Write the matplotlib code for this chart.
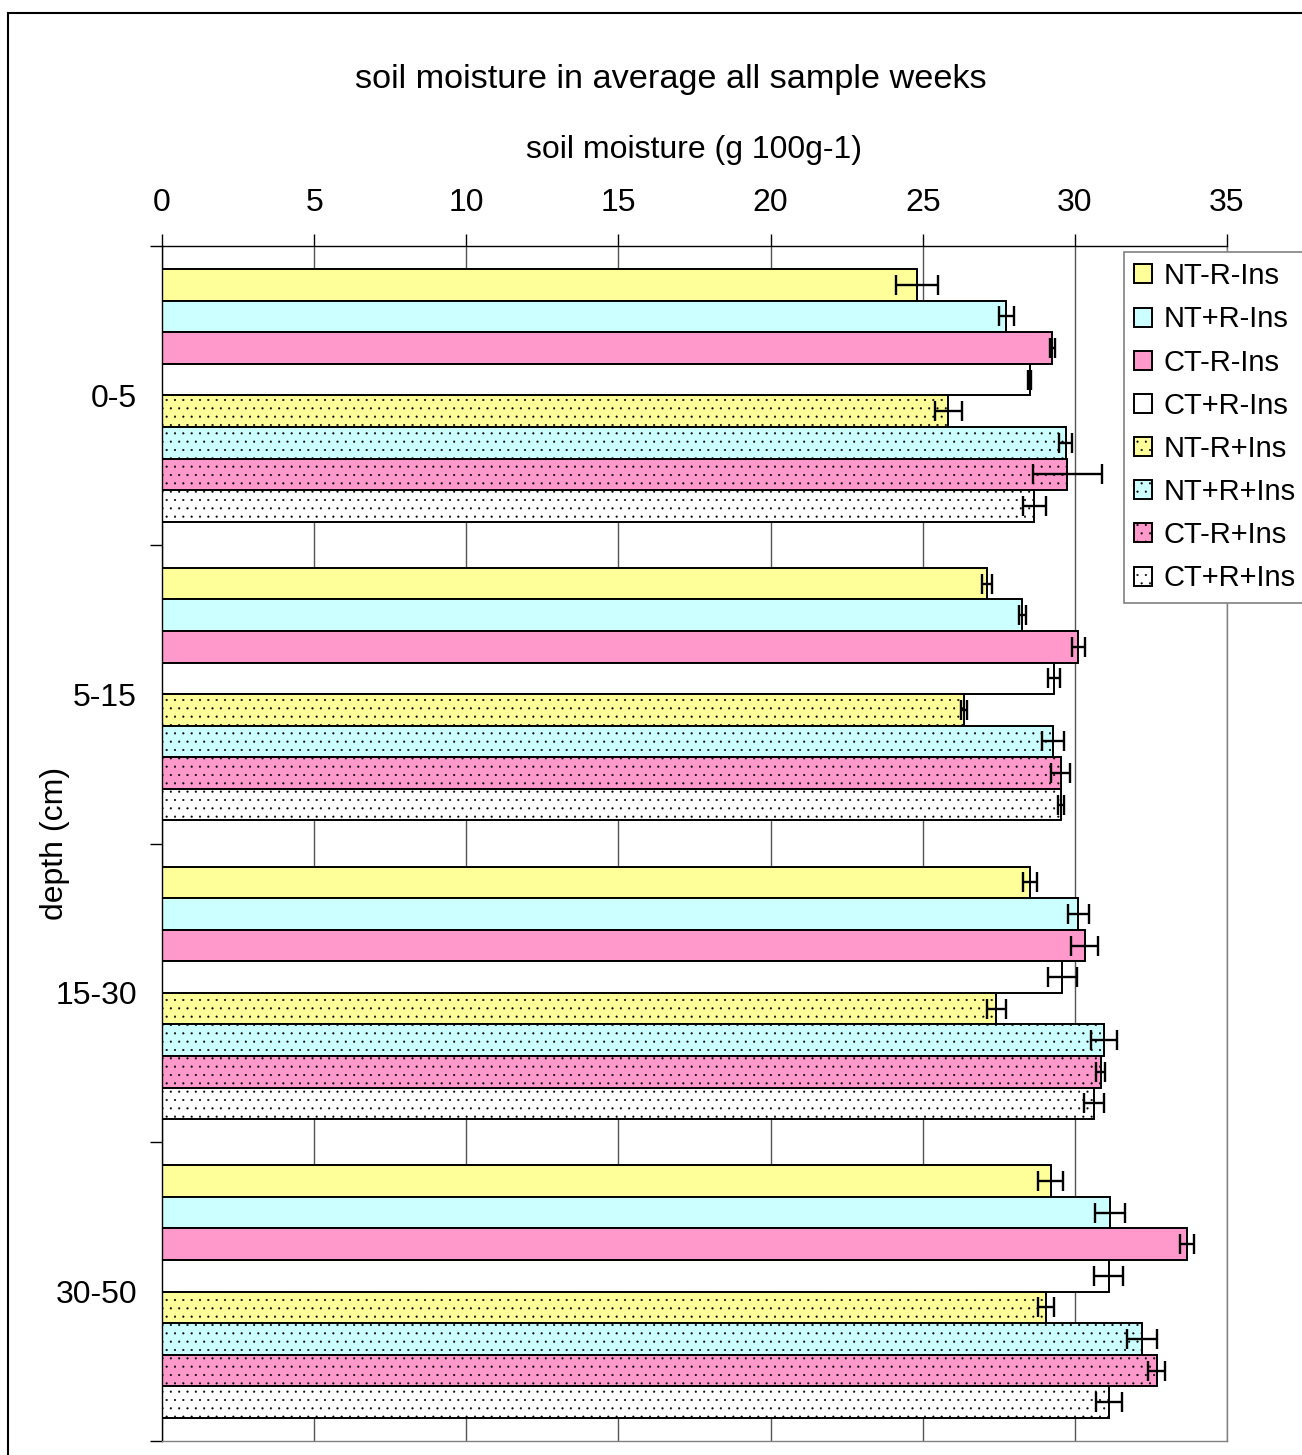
import numpy as np
import matplotlib.pyplot as plt
from matplotlib.patches import Rectangle

plt.rcParams['font.family'] = ['Liberation Sans', 'DejaVu Sans']
plt.rcParams['hatch.linewidth'] = 0.3

depths = ["0-5", "5-15", "15-30", "30-50"]
series = ["NT-R-Ins", "NT+R-Ins", "CT-R-Ins", "CT+R-Ins",
          "NT-R+Ins", "NT+R+Ins", "CT-R+Ins", "CT+R+Ins"]
colors = ["#FFFF99", "#CCFFFF", "#FF99CC", "#FFFFFF",
          "#FFFF99", "#CCFFFF", "#FF99CC", "#FFFFFF"]
hatches = [None, None, None, None, "..", "..", "..", ".."]

# mean soil moisture per series, one value per depth
nt_r_ins = [24.80, 27.11, 28.52, 29.20]
ntpr_ins = [27.75, 28.27, 30.11, 31.16]
ct_r_ins = [29.26, 30.11, 30.32, 33.69]
ctpr_ins = [28.52, 29.31, 29.59, 31.11]
nt_r_pins = [25.84, 26.37, 27.42, 29.05]
ntpr_pins = [29.70, 29.27, 30.96, 32.22]
ct_r_pins = [29.75, 29.54, 30.85, 32.69]
ctpr_pins = [28.67, 29.53, 30.64, 31.11]

# error bars
err_nt_r_ins = [0.69, 0.16, 0.23, 0.41]
err_ntpr_ins = [0.25, 0.12, 0.35, 0.49]
err_ct_r_ins = [0.08, 0.22, 0.45, 0.22]
err_ctpr_ins = [0.05, 0.20, 0.48, 0.48]
err_nt_r_pins = [0.45, 0.10, 0.32, 0.25]
err_ntpr_pins = [0.22, 0.36, 0.42, 0.49]
err_ct_r_pins = [1.13, 0.31, 0.14, 0.28]
err_ctpr_pins = [0.37, 0.10, 0.33, 0.43]

values = [nt_r_ins, ntpr_ins, ct_r_ins, ctpr_ins,
          nt_r_pins, ntpr_pins, ct_r_pins, ctpr_pins]
errors = [err_nt_r_ins, err_ntpr_ins, err_ct_r_ins, err_ctpr_ins,
          err_nt_r_pins, err_ntpr_pins, err_ct_r_pins, err_ctpr_pins]

W, H = 1302, 1455
fig = plt.figure(figsize=(W / 100, H / 100), dpi=100)
ax = fig.add_axes([162 / W, 1 - 1441 / H, (1227 - 162) / W, (1441 - 246) / H])

# outer chart frame
fig.patches.append(Rectangle((8 / W, -0.05), 1.1, 1 - 13 / H + 0.05,
                             transform=fig.transFigure, fill=False,
                             edgecolor="black", linewidth=1.5))

y = np.arange(len(depths))
h = 0.1057
n = len(series)
for j in range(n):
    pos = y - n * h / 2 + (j + 0.5) * h
    ax.barh(pos, values[j], height=h, color=colors[j], edgecolor="black",
            linewidth=1.4, hatch=hatches[j], label=series[j],
            xerr=errors[j],
            error_kw=dict(ecolor="black", elinewidth=1.7, capsize=7, capthick=1.7))

ax.set_xlim(0, 35)
ax.set_ylim(len(depths) - 0.5, -0.5)
ax.xaxis.tick_top()
ax.xaxis.set_label_position("top")
ax.set_xticks(np.arange(0, 36, 5))
ax.tick_params(axis="x", direction="out", length=8.5, width=1, pad=12,
               labelsize=23, colors="black")
ax.set_yticks(y)
ax.set_yticklabels(depths)
ax.set_yticks(np.arange(-0.5, len(depths), 1), minor=True)
ax.tick_params(axis="y", which="major", length=0, pad=18, labelsize=23)
ax.tick_params(axis="y", which="minor", direction="out", length=8.5, width=1)

ax.set_xlabel("soil moisture (g 100g-1)", fontsize=23, labelpad=21)
fig.text(55 / W, 1 - 843 / H, "depth (cm)", rotation=90, ha="center",
         va="center", fontsize=23)
fig.text(671 / W, 1 - 88 / H, "soil moisture in average all sample weeks",
         ha="center", va="baseline", fontsize=24.7)

ax.grid(axis="x", color="#555555", linewidth=1)
ax.set_axisbelow(True)
ax.spines["left"].set_color("black")
ax.spines["top"].set_color("black")
ax.spines["right"].set_color("#808080")
ax.spines["bottom"].set_color("#808080")
for s in ax.spines.values():
    s.set_linewidth(1)

leg = ax.legend(loc="upper left", bbox_to_anchor=(1124 / W, 1 - 252 / H),
                bbox_transform=fig.transFigure, fontsize=21, frameon=True,
                fancybox=False, edgecolor="#808080", framealpha=1,
                borderaxespad=0, borderpad=0.35, labelspacing=0.52,
                handlelength=0.62, handleheight=0.62, handletextpad=0.4)
leg.get_frame().set_linewidth(1.2)

fig.savefig("out.png", dpi=100)
